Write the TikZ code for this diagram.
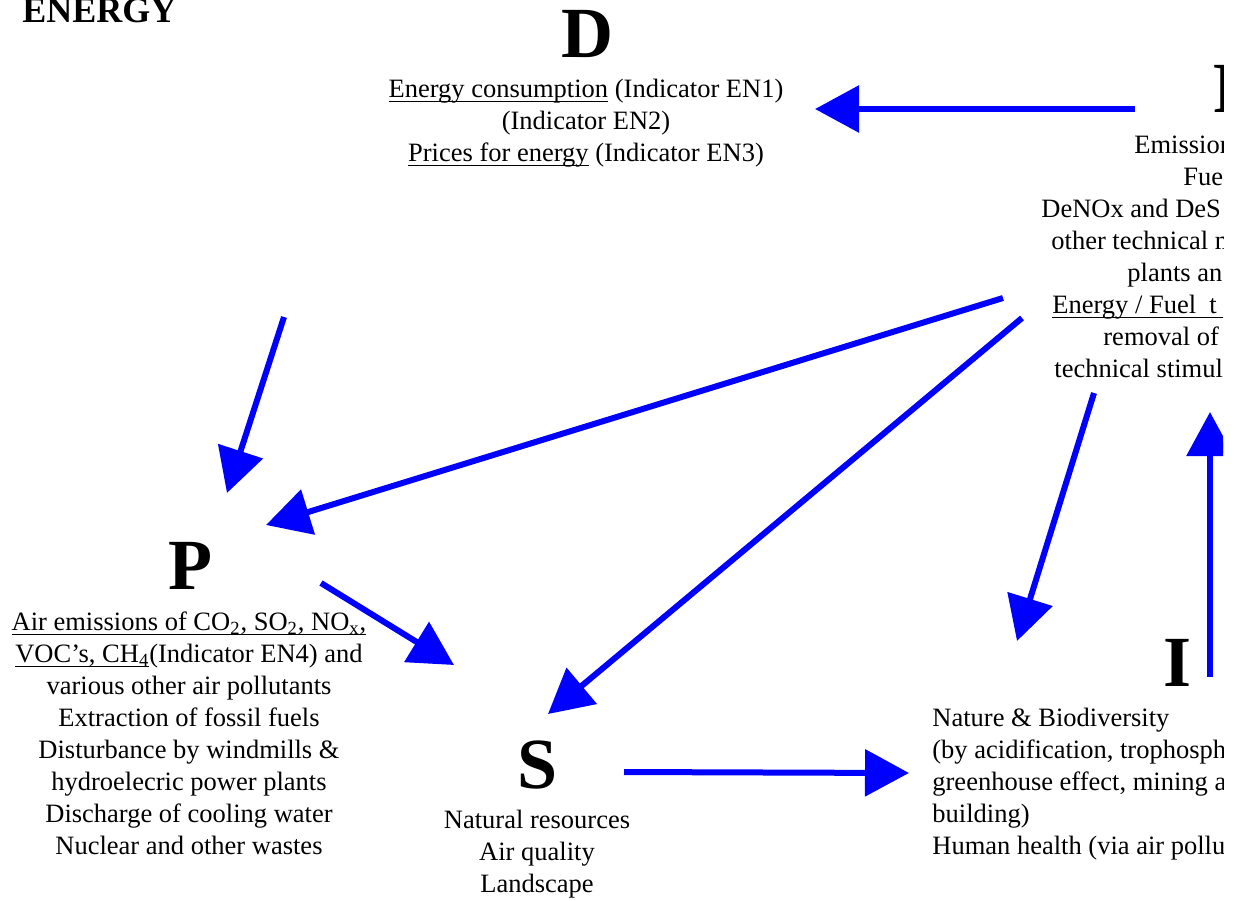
\documentclass[tikz,border=0pt]{standalone}
\usepackage{fontspec}
\setmainfont{Liberation Serif}
\usetikzlibrary{arrows.meta}

\tikzset{
  letter/.style={font=\fontsize{36}{36}\selectfont\bfseries, inner sep=0pt, anchor=base},
  body/.style={font=\fontsize{13.25}{16}\selectfont, inner sep=0pt, anchor=base},
  flow/.style={draw=blue, line width=3pt, -{Triangle[length=22pt,width=23pt]}}
}
\newcommand\undl[1]{\setbox0\hbox{#1}\rlap{\rule[-2.4pt]{\wd0}{0.6pt}}\box0\relax}
\newcommand\cblock[1]{\begin{tabular}[t]{@{}c@{}}#1\end{tabular}}
\newcommand\lblock[1]{\begin{tabular}[t]{@{}l@{}}#1\end{tabular}}

\begin{document}
\begin{tikzpicture}[x=0.5pt, y=-0.5pt]
  \useasboundingbox (0,0) rectangle (1242,900);
  \clip (0,0) rectangle (1223,900);

  \node [anchor=base west, inner sep=0pt, font=\fontsize{18}{18}\selectfont\bfseries] (title) at (22,22) {ENERGY};

  % D
  \node [letter] (D) at (587,57) {D};
  \node [body] (Dtxt) at (586,97) {\cblock{\undl{Energy consumption} (Indicator EN1)\\(Indicator EN2)\\\undl{Prices for energy} (Indicator EN3)}};

  % R (cut at the right edge)
  \node [letter, anchor=base west] (R) at (1213,112) {R};
  \node [body, anchor=base west] (r1) at (1134,153) {Emission};
  \node [body, anchor=base west] (r2) at (1183,185) {Fue};
  \node [body, anchor=base west] (r3) at (1041,217) {DeNOx and DeS};
  \node [body, anchor=base west] (r4) at (1051,249) {other technical m};
  \node [body, anchor=base west] (r5) at (1127,281) {plants an};
  \node [body, anchor=base west] (r6) at (1052,313) {\undl{Energy / Fuel\ \ t\hspace{4pt}}};
  \node [body, anchor=base west] (r7) at (1103,345) {removal of};
  \node [body, anchor=base west] (r8) at (1054,377) {technical stimul};

  % P
  \node [letter] (P) at (190,589) {P};
  \node [body] (Ptxt) at (189,630) {\cblock{\undl{Air emissions of CO\textsubscript{2}, SO\textsubscript{2}, NO\textsubscript{x},}\\\undl{VOC's, CH\textsubscript{4}}(Indicator EN4) and\\various other air pollutants\\Extraction of fossil fuels\\Disturbance by windmills \&\\hydroelecric power plants\\Discharge of cooling water\\Nuclear and other wastes}};

  % S
  \node [letter] (S) at (538,788) {S};
  \node [body] (Stxt) at (537,828) {\cblock{Natural resources\\Air quality\\Landscape}};

  % I
  \node [letter] (I) at (1177,686) {I};
  \node [body, anchor=base west] (Itxt) at (932,726) {\lblock{Nature \& Biodiversity\\(by acidification, trophosph\\greenhouse effect, mining a\\building)\\Human health (via air pollu}};

  \coordinate (R-d) at (1135,109);  \coordinate (D-r) at (815,109);
  \coordinate (R-p) at (1003,298);  \coordinate (P-r) at (266,525);
  \coordinate (R-s) at (1022,318);  \coordinate (S-r) at (548,714);
  \coordinate (R-i) at (1094,393);  \coordinate (I-r) at (1017,641);
  \coordinate (P-s) at (321,583);   \coordinate (S-p) at (454,665);
  \coordinate (S-i) at (624,772);   \coordinate (I-s) at (909,773);
  \coordinate (I-r2) at (1210,677); \coordinate (R-i2) at (1210,412);
  \coordinate (above-P) at (284,317); \coordinate (P-top) at (227,493);

  \draw [flow] (R-d) -- (D-r);
  \draw [flow] (above-P) -- (P-top);
  \draw [flow] (R-p) -- (P-r);
  \draw [flow] (R-s) -- (S-r);
  \draw [flow] (R-i) -- (I-r);
  \draw [flow] (P-s) -- (S-p);
  \draw [flow] (S-i) -- (I-s);
  \draw [flow] (I-r2) -- (R-i2);
\end{tikzpicture}
\end{document}
